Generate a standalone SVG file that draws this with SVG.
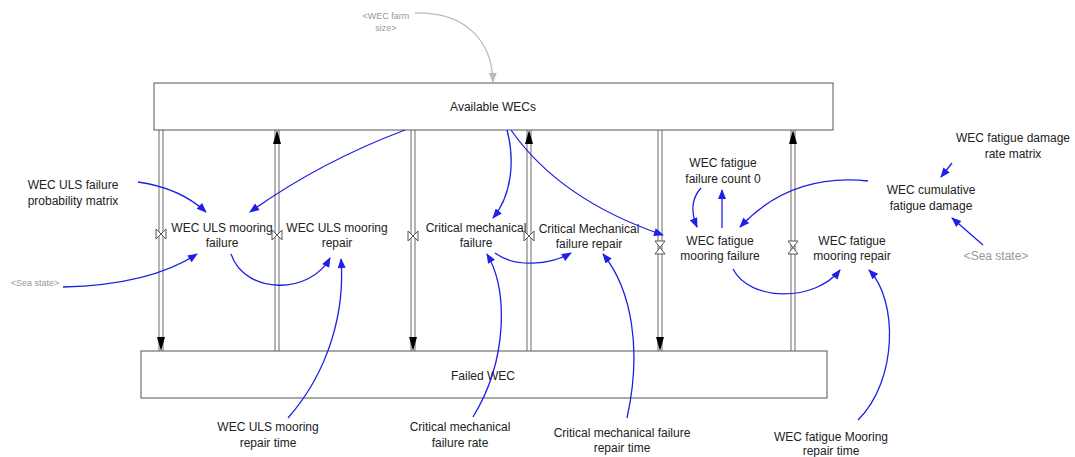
<svg xmlns="http://www.w3.org/2000/svg" width="1075" height="457" viewBox="0 0 1075 457">
  <style>
    text { font-family: "Liberation Sans", Arial, sans-serif; font-size: 12px; fill: #222; text-anchor: middle; }
    .shadow { fill: #999; }
    .small { font-size: 9px; }
    .stock { fill: #fff; stroke: #555; stroke-width: 1; }
    .pipe { stroke: #777; stroke-width: 1.1; fill: none; }
    .pipefill { stroke: #fff; stroke-width: 3; }
    .head { fill: #000; }
    .valve { fill: #fff; stroke: #555; stroke-width: 1; }
    .link { fill: none; stroke: #1f1fe6; stroke-width: 1.3; marker-end: url(#arrow); }
    .glink { fill: none; stroke: #bbb; stroke-width: 1.3; marker-end: url(#garrow); }
  </style>
  <defs>
    <marker id="arrow" viewBox="0 0 10 8" refX="9" refY="4" markerWidth="11" markerHeight="8" markerUnits="userSpaceOnUse" orient="auto">
      <path d="M0,0 L10,4 L0,8 Z" fill="#1f1fe6"/>
    </marker>
    <marker id="garrow" viewBox="0 0 10 8" refX="9" refY="4" markerWidth="11" markerHeight="8" markerUnits="userSpaceOnUse" orient="auto">
      <path d="M0,0 L10,4 L0,8 Z" fill="#bbb"/>
    </marker>
  </defs>

  <!-- flow pipes between the two stocks -->
  <g id="pipes">
    <g id="pipe-uls-failure">
      <line class="pipefill" x1="161" y1="130" x2="161" y2="351"/>
      <line class="pipe" x1="159" y1="130" x2="159" y2="351"/>
      <line class="pipe" x1="163" y1="130" x2="163" y2="351"/>
      <path class="head" d="M157,337 L165,337 L161,351 Z"/>
    </g>
    <g id="pipe-uls-repair">
      <line class="pipefill" x1="277" y1="130" x2="277" y2="351"/>
      <line class="pipe" x1="275" y1="130" x2="275" y2="351"/>
      <line class="pipe" x1="279" y1="130" x2="279" y2="351"/>
      <path class="head" d="M273,144 L281,144 L277,130 Z"/>
    </g>
    <g id="pipe-mech-failure">
      <line class="pipefill" x1="413" y1="130" x2="413" y2="351"/>
      <line class="pipe" x1="411" y1="130" x2="411" y2="351"/>
      <line class="pipe" x1="415" y1="130" x2="415" y2="351"/>
      <path class="head" d="M409,337 L417,337 L413,351 Z"/>
    </g>
    <g id="pipe-mech-repair">
      <line class="pipefill" x1="529" y1="130" x2="529" y2="351"/>
      <line class="pipe" x1="527" y1="130" x2="527" y2="351"/>
      <line class="pipe" x1="531" y1="130" x2="531" y2="351"/>
      <path class="head" d="M525,144 L533,144 L529,130 Z"/>
    </g>
    <g id="pipe-fatigue-failure">
      <line class="pipefill" x1="660" y1="130" x2="660" y2="351"/>
      <line class="pipe" x1="658" y1="130" x2="658" y2="351"/>
      <line class="pipe" x1="662" y1="130" x2="662" y2="351"/>
      <path class="head" d="M656,337 L664,337 L660,351 Z"/>
    </g>
    <g id="pipe-fatigue-repair">
      <line class="pipefill" x1="793" y1="130" x2="793" y2="351"/>
      <line class="pipe" x1="791" y1="130" x2="791" y2="351"/>
      <line class="pipe" x1="795" y1="130" x2="795" y2="351"/>
      <path class="head" d="M789,144 L797,144 L793,130 Z"/>
    </g>
  </g>

  <!-- stocks -->
  <g id="available-wecs">
    <rect class="stock" x="154" y="83" width="679" height="47"/>
    <text x="493" y="111">Available WECs</text>
  </g>
  <g id="failed-wec">
    <rect class="stock" x="141" y="351" width="686" height="47"/>
    <text x="483" y="380">Failed WEC</text>
  </g>

  <!-- flow valves and rate names -->
  <g id="wec-uls-mooring-failure">
    <path class="valve" d="M156,229 L156,239 L166,229 L166,239 Z"/>
    <text x="222" y="232">WEC ULS mooring</text>
    <text x="222" y="247">failure</text>
  </g>
  <g id="wec-uls-mooring-repair">
    <path class="valve" d="M272,230 L272,240 L282,230 L282,240 Z"/>
    <text x="337" y="232">WEC ULS mooring</text>
    <text x="337" y="247">repair</text>
  </g>
  <g id="critical-mechanical-failure">
    <path class="valve" d="M408,231 L408,241 L418,231 L418,241 Z"/>
    <text x="476" y="232">Critical mechanical</text>
    <text x="476" y="247">failure</text>
  </g>
  <g id="critical-mechanical-failure-repair">
    <path class="valve" d="M524,231 L524,241 L534,231 L534,241 Z"/>
    <text x="589" y="233">Critical Mechanical</text>
    <text x="589" y="248">failure repair</text>
  </g>
  <g id="wec-fatigue-mooring-failure">
    <path class="valve" d="M655,241 L665,241 L655,254 L665,254 Z"/>
    <text x="720" y="245">WEC fatigue</text>
    <text x="720" y="260">mooring failure</text>
  </g>
  <g id="wec-fatigue-mooring-repair">
    <path class="valve" d="M788,241 L798,241 L788,254 L798,254 Z"/>
    <text x="852" y="245">WEC fatigue</text>
    <text x="852" y="260">mooring repair</text>
  </g>

  <!-- auxiliary variables -->
  <g id="wec-farm-size">
    <text class="shadow small" x="386" y="19">&lt;WEC farm</text>
    <text class="shadow small" x="386" y="31">size&gt;</text>
  </g>
  <g id="wec-uls-failure-probability-matrix">
    <text x="73" y="189">WEC ULS failure</text>
    <text x="73" y="205">probability matrix</text>
  </g>
  <g id="sea-state-left">
    <text class="shadow small" x="35" y="286">&lt;Sea state&gt;</text>
  </g>
  <g id="wec-uls-mooring-repair-time">
    <text x="268" y="431">WEC ULS mooring</text>
    <text x="268" y="447">repair time</text>
  </g>
  <g id="critical-mechanical-failure-rate">
    <text x="460" y="431">Critical mechanical</text>
    <text x="460" y="447">failure rate</text>
  </g>
  <g id="critical-mechanical-failure-repair-time">
    <text x="622" y="437">Critical mechanical failure</text>
    <text x="622" y="452">repair time</text>
  </g>
  <g id="wec-fatigue-mooring-repair-time">
    <text x="831" y="441">WEC fatigue Mooring</text>
    <text x="831" y="455">repair time</text>
  </g>
  <g id="wec-fatigue-failure-count-0">
    <text x="723" y="167">WEC fatigue</text>
    <text x="723" y="183">failure count 0</text>
  </g>
  <g id="wec-cumulative-fatigue-damage">
    <text x="931" y="194">WEC cumulative</text>
    <text x="931" y="210">fatigue damage</text>
  </g>
  <g id="wec-fatigue-damage-rate-matrix">
    <text x="1013" y="142">WEC fatigue damage</text>
    <text x="1013" y="158">rate matrix</text>
  </g>
  <g id="sea-state-right">
    <text class="shadow" x="996" y="260">&lt;Sea state&gt;</text>
  </g>

  <!-- information links -->
  <g id="connectors">
    <path class="glink" d="M415,13 C465,12 492,40 493,82"/>
    <path class="link" d="M138,182 Q180,188 206,212"/>
    <path class="link" d="M63,287 Q150,285 197,254"/>
    <path class="link" d="M405,130 Q320,162 250,212"/>
    <path class="link" d="M231,254 C245,295 310,295 330,258"/>
    <path class="link" d="M288,418 C330,370 345,310 341,259"/>
    <path class="link" d="M507,130 C515,160 512,195 493,218"/>
    <path class="link" d="M511,130 Q560,200 663,235"/>
    <path class="link" d="M495,253 C515,268 550,265 571,253"/>
    <path class="link" d="M473,417 C508,360 508,290 487,254"/>
    <path class="link" d="M627,418 C642,350 632,290 603,254"/>
    <path class="link" d="M701,188 C690,200 692,215 697,227"/>
    <path class="link" d="M722,228 L722,190"/>
    <path class="link" d="M868,181 C810,175 770,195 740,227"/>
    <path class="link" d="M952,163 L941,177"/>
    <path class="link" d="M983,245 L952,218"/>
    <path class="link" d="M733,269 C750,302 815,302 840,270"/>
    <path class="link" d="M858,420 C898,380 898,300 869,270"/>
  </g>
</svg>
